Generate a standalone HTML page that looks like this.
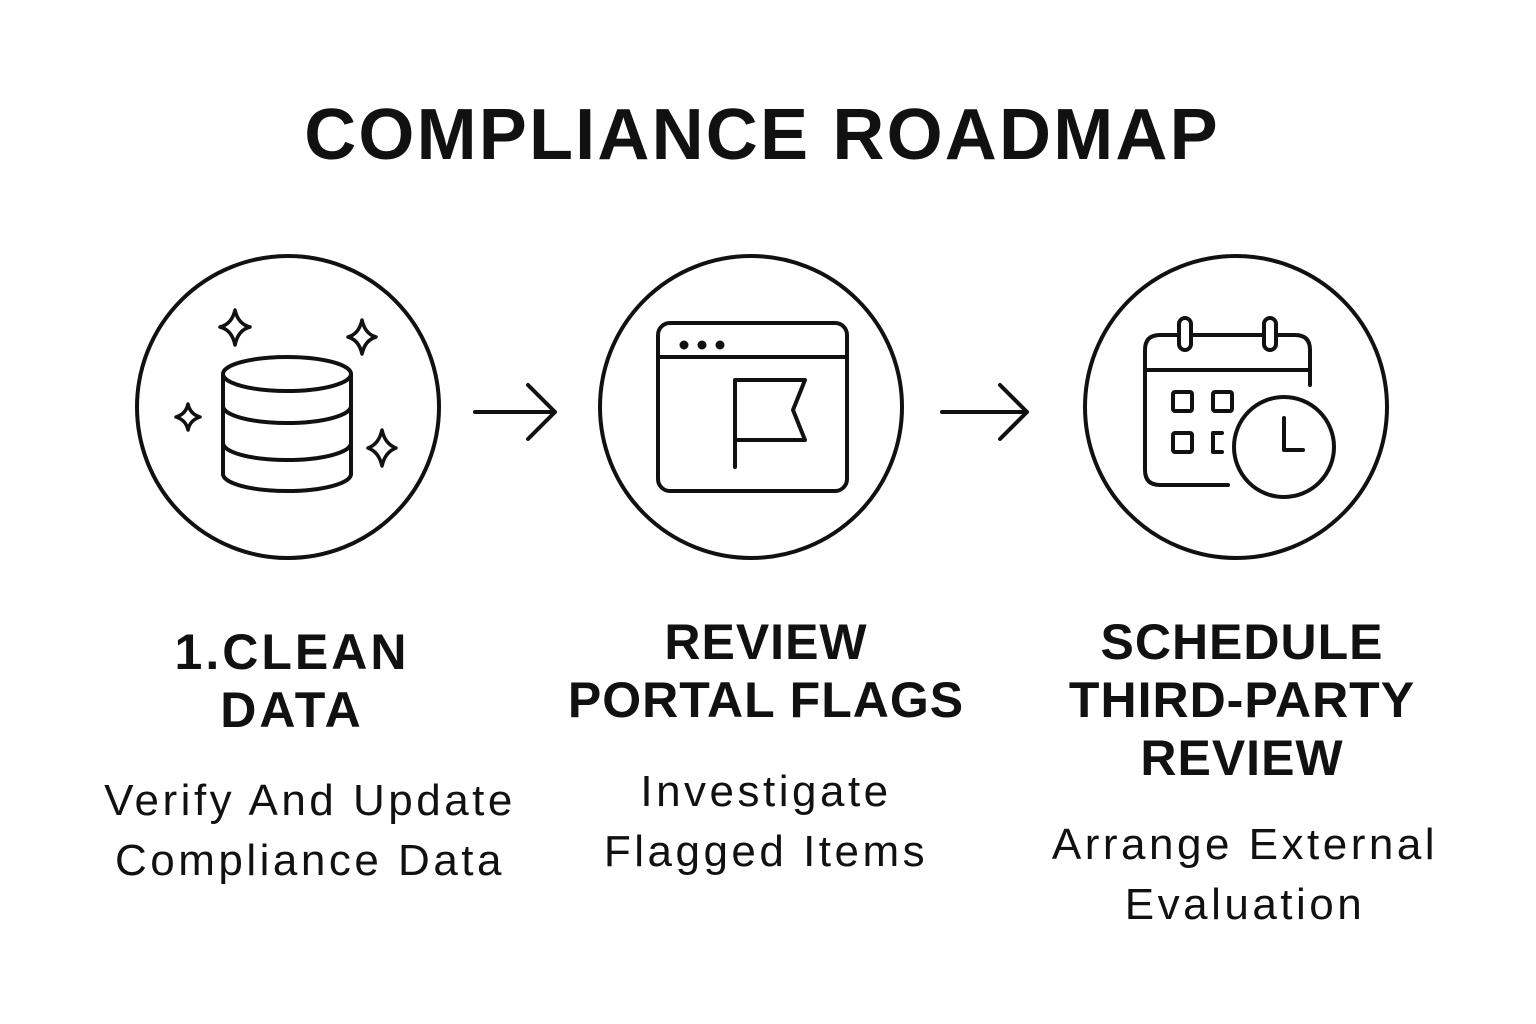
<!DOCTYPE html>
<html><head><meta charset="utf-8"><style>
body{margin:0;width:1536px;height:1024px;background:#fff;overflow:hidden;font-family:"Liberation Sans",sans-serif;color:#111}
.t{position:absolute;left:0;width:1536px;text-align:center;white-space:nowrap}
.h{font-weight:bold;font-size:50px;line-height:58px;letter-spacing:1px}
.b{font-size:44px;line-height:60px;letter-spacing:3.5px}
</style></head><body>
<svg width="1536" height="1024" style="position:absolute;left:0;top:0" fill="none" stroke="#111" stroke-width="4" stroke-linecap="round" stroke-linejoin="round">
<circle cx="288" cy="407" r="151"/>
<circle cx="751" cy="407" r="151"/>
<circle cx="1236" cy="407" r="151"/>
<!-- db -->
<ellipse cx="287" cy="374" rx="64" ry="17"/>
<path d="M223 374V474M351 374V474"/>
<path d="M223 406a64 17 0 0 0 128 0M223 443a64 17 0 0 0 128 0M223 474a64 17 0 0 0 128 0"/>
<path d="M235 310Q238 324 250 327Q238 330 235 345Q232 330 220 327Q232 324 235 310Z" stroke-width="3.5"/>
<path d="M362 320Q365 334 376 337Q365 340 362 354Q359 340 348 337Q359 334 362 320Z" stroke-width="3.5"/>
<path d="M188 404Q190 414 200 417Q190 420 188 430Q186 420 176 417Q186 414 188 404Z" stroke-width="3.5"/>
<path d="M382 430Q385 444 396 448Q385 452 382 466Q379 452 368 448Q379 444 382 430Z" stroke-width="3.5"/>
<!-- arrows -->
<path d="M475 412H553M528 385L555 412L528 439"/>
<path d="M942 412H1026M1000 385L1027 412L1000 439"/>
<!-- browser -->
<rect x="658" y="323" width="189" height="168" rx="12"/>
<path d="M658 357H847"/>
<circle cx="684" cy="345" r="2.5" fill="#111"/><circle cx="702" cy="345" r="2.5" fill="#111"/><circle cx="720" cy="345" r="2.5" fill="#111"/>
<path d="M735 467V380H805L793 410L805 440H735"/>
<!-- calendar -->
<path d="M1228 485H1160Q1145 485 1145 470V350Q1145 335 1160 335H1295Q1310 335 1310 350V385"/>
<path d="M1145 370H1310"/>
<rect x="1179" y="318" width="12" height="32" rx="6" fill="#fff"/>
<rect x="1264" y="318" width="12" height="32" rx="6" fill="#fff"/>
<rect x="1173" y="392" width="19" height="19" rx="2"/><rect x="1213" y="392" width="19" height="19" rx="2"/>
<rect x="1173" y="433" width="19" height="19" rx="2"/><path d="M1222 433H1213V452H1222"/>
<circle cx="1284" cy="447" r="50"/>
<path d="M1284 418V450H1303"/>
</svg>
<div class="t" style="top:92px;font-size:72px;font-weight:bold;line-height:86px;left:-6px;letter-spacing:2.2px">COMPLIANCE ROADMAP</div>
<div class="t h" style="top:623px;left:-476px;width:1536px;letter-spacing:3px">1.CLEAN<br>DATA</div>
<div class="t b" style="top:771px;left:-458px">Verify And Update<br>Compliance Data</div>
<div class="t h" style="top:613px;left:-2px">REVIEW<br>PORTAL FLAGS</div>
<div class="t b" style="top:762px;left:-2px">Investigate<br>Flagged Items</div>
<div class="t h" style="top:613px;left:474px">SCHEDULE<br>THIRD-PARTY<br>REVIEW</div>
<div class="t b" style="top:815px;left:477px">Arrange External<br>Evaluation</div>
</body></html>
